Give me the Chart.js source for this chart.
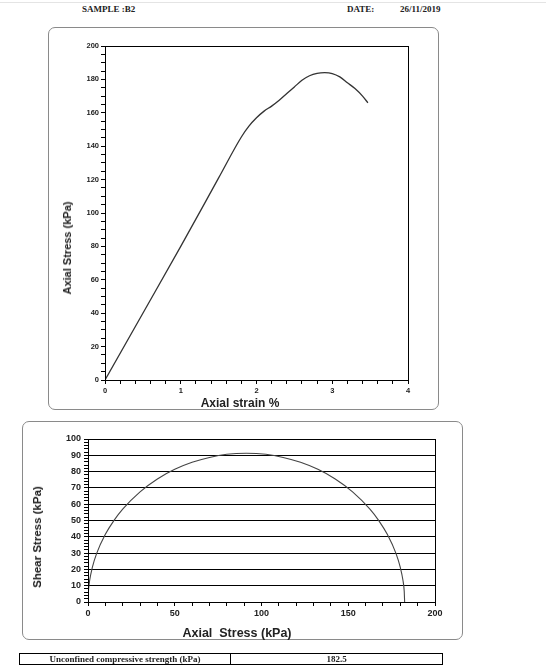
<!DOCTYPE html>
<html>
<head>
<meta charset="utf-8">
<script src="https://cdn.jsdelivr.net/npm/chart.js@4.4.1/dist/chart.umd.min.js"></script>
<style>
body{margin:0;background:#fff;}
#page{position:relative;width:546px;height:666px;overflow:hidden;font-family:"Liberation Sans",Arial,sans-serif;}
.panel{position:absolute;border:1px solid #8a8a8a;border-radius:7px;box-sizing:border-box;}
.box{position:absolute;}
.t{position:absolute;font-weight:bold;color:#222;white-space:nowrap;transform:translate(-50%,-50%);}
.rot{transform:translate(-50%,-50%) rotate(-90deg);}
.hdr{position:absolute;font-family:"Liberation Serif","Times New Roman",serif;font-weight:bold;font-size:9px;color:#222;}
#res{position:absolute;left:19px;top:653px;width:424px;height:12px;border-collapse:collapse;}
#res td{border:1px solid #000;padding:0;font-family:"Liberation Serif","Times New Roman",serif;font-weight:bold;font-size:9px;line-height:10px;text-align:center;color:#222;}
</style>
</head>
<body>
<div id="page">
  <div style="position:absolute;left:0;top:2px;width:546px;height:1px;background:#e4e4e4"></div>
  <div class="hdr" style="left:82px;top:4px">SAMPLE :B2</div>
  <div class="hdr" style="left:347px;top:4px">DATE:</div>
  <div class="hdr" style="left:400px;top:4px">26/11/2019</div>

  <div class="panel" style="left:48px;top:27px;width:391px;height:383px"></div>
  <div class="box" style="left:48px;top:27px;width:391px;height:383px"><canvas id="strainChart"></canvas></div>
  <div class="t" style="left:240px;top:403px;font-size:12px">Axial strain %</div>
  <div class="t rot" style="left:67px;top:248px;font-size:11px">Axial Stress (kPa)</div>

  <div class="panel" style="left:22px;top:421px;width:441px;height:219px"></div>
  <div class="box" style="left:22px;top:421px;width:441px;height:219px"><canvas id="mohrChart"></canvas></div>
  <div class="t" style="left:237px;top:633px;font-size:12.5px">Axial&nbsp; Stress (kPa)</div>
  <div class="t rot" style="left:37px;top:537px;font-size:11.5px">Shear Stress (kPa)</div>

  <table id="res"><tr><td style="width:210px">Unconfined compressive strength (kPa)</td><td id="ucsCell"></td></tr></table>
</div>
<script>
// stress-strain curve
const strain = [0, 0.5, 1.0, 1.5, 1.8, 1.9, 2.0, 2.1, 2.2, 2.3, 2.4, 2.5, 2.6, 2.7, 2.8, 2.9, 3.0, 3.1, 3.2, 3.3, 3.4, 3.47];
const axialStress = [0, 40, 80, 121, 145.5, 152, 157, 161, 164, 167.5, 171.5, 175.5, 179.5, 182.2, 183.6, 184, 183.5, 181.5, 178, 174.5, 170, 166];

// Mohr circle (sigma, tau)
const sigma = [0, 0.25, 1, 2.5, 5, 10, 15, 20, 30, 40, 50, 60, 70, 80, 91.25, 102.5, 112.5, 122.5, 132.5, 142.5, 152.5, 162.5, 167.5, 172.5, 177.5, 180, 181.5, 182.25, 182.5];
const tau = [0, 6.7, 13.5, 21.2, 29.8, 41.5, 50.1, 57, 67.6, 75.5, 81.4, 85.7, 88.7, 90.6, 91.25, 90.6, 88.7, 85.7, 81.4, 75.5, 67.6, 57, 50.1, 41.5, 29.8, 21.2, 13.5, 6.7, 0];

const ucs = 182.5;

// tick labels
const topXLabels = [0, 1, 2, 3, 4];
const topYLabels = [0, 20, 40, 60, 80, 100, 120, 140, 160, 180, 200];
const botXLabels = [0, 50, 100, 150, 200];
const botYLabels = [0, 10, 20, 30, 40, 50, 60, 70, 80, 90, 100];

document.getElementById('ucsCell').textContent = ucs;

function minorTicks(min, max, step) {
  const out = [];
  const n = Math.round((max - min) / step);
  for (let i = 0; i <= n; i++) out.push(+(min + i * step).toFixed(4));
  return out;
}

const frame = {
  id: 'frame',
  afterDraw(chart) {
    const a = chart.chartArea, g = chart.ctx;
    g.save();
    g.strokeStyle = '#000';
    g.lineWidth = 1;
    g.strokeRect(Math.round(a.left) + 0.5, Math.round(a.top) + 0.5, Math.round(a.right - a.left), Math.round(a.bottom - a.top));
    g.restore();
  }
};

const tickFont = size => ({family: '"Liberation Sans", Arial, sans-serif', size: size, weight: 'bold'});

new Chart(document.getElementById('strainChart'), {
  type: 'scatter',
  data: {
    datasets: [{
      data: strain.map((x, i) => ({x: x, y: axialStress[i]})),
      showLine: true,
      borderColor: '#333',
      borderWidth: 1.3,
      pointRadius: 0,
      cubicInterpolationMode: 'monotone',
      fill: false
    }]
  },
  options: {
    responsive: true,
    maintainAspectRatio: false,
    animation: false,
    layout: {padding: {top: 19, right: 31, left: 0, bottom: 0}},
    plugins: {legend: {display: false}, tooltip: {enabled: false}},
    scales: {
      x: {
        type: 'linear', min: 0, max: 4,
        afterFit(s) { s.height = 30; },
        afterBuildTicks(s) { s.ticks = minorTicks(0, 4, 0.2).map(v => ({value: v})); },
        ticks: {autoSkip: false, maxRotation: 0, padding: 2, font: tickFont(7.5), color: '#222',
          callback: v => topXLabels.includes(v) ? String(v) : ''},
        grid: {drawOnChartArea: false, tickLength: 4, tickColor: '#000'},
        border: {color: '#000'}
      },
      y: {
        type: 'linear', min: 0, max: 200,
        afterFit(s) { s.width = 57; },
        afterBuildTicks(s) { s.ticks = minorTicks(0, 200, 5).map(v => ({value: v})); },
        ticks: {autoSkip: false, padding: 2, font: tickFont(7.5), color: '#222',
          callback: v => topYLabels.includes(v) ? String(v) : ''},
        grid: {drawOnChartArea: false, tickLength: 4, tickColor: '#000'},
        border: {color: '#000'}
      }
    }
  },
  plugins: [frame]
});

new Chart(document.getElementById('mohrChart'), {
  type: 'scatter',
  data: {
    datasets: [{
      data: sigma.map((x, i) => ({x: x, y: tau[i]})),
      showLine: true,
      borderColor: '#444',
      borderWidth: 1.1,
      pointRadius: 0,
      cubicInterpolationMode: 'monotone',
      fill: false
    }]
  },
  options: {
    responsive: true,
    maintainAspectRatio: false,
    animation: false,
    layout: {padding: {top: 18, right: 28, left: 0, bottom: 0}},
    plugins: {legend: {display: false}, tooltip: {enabled: false}},
    scales: {
      x: {
        type: 'linear', min: 0, max: 200,
        afterFit(s) { s.height = 38; },
        afterBuildTicks(s) { s.ticks = minorTicks(0, 200, 10).map(v => ({value: v})); },
        ticks: {autoSkip: false, maxRotation: 0, padding: 2, font: tickFont(9), color: '#222',
          callback: v => botXLabels.includes(v) ? String(v) : ''},
        grid: {drawOnChartArea: false, tickLength: 4, tickColor: '#000'},
        border: {color: '#000'}
      },
      y: {
        type: 'linear', min: 0, max: 100,
        afterFit(s) { s.width = 66; },
        afterBuildTicks(s) { s.ticks = minorTicks(0, 100, 2).map(v => ({value: v})); },
        ticks: {autoSkip: false, padding: 3, font: tickFont(9), color: '#222',
          callback: v => botYLabels.includes(v) ? String(v) : ''},
        grid: {
          tickLength: 4, tickColor: '#000', lineWidth: 1,
          color: c => (c.tick && botYLabels.includes(c.tick.value)) ? '#000' : 'rgba(0,0,0,0)'
        },
        border: {color: '#000'}
      }
    }
  },
  plugins: [frame]
});
</script>
</body>
</html>
